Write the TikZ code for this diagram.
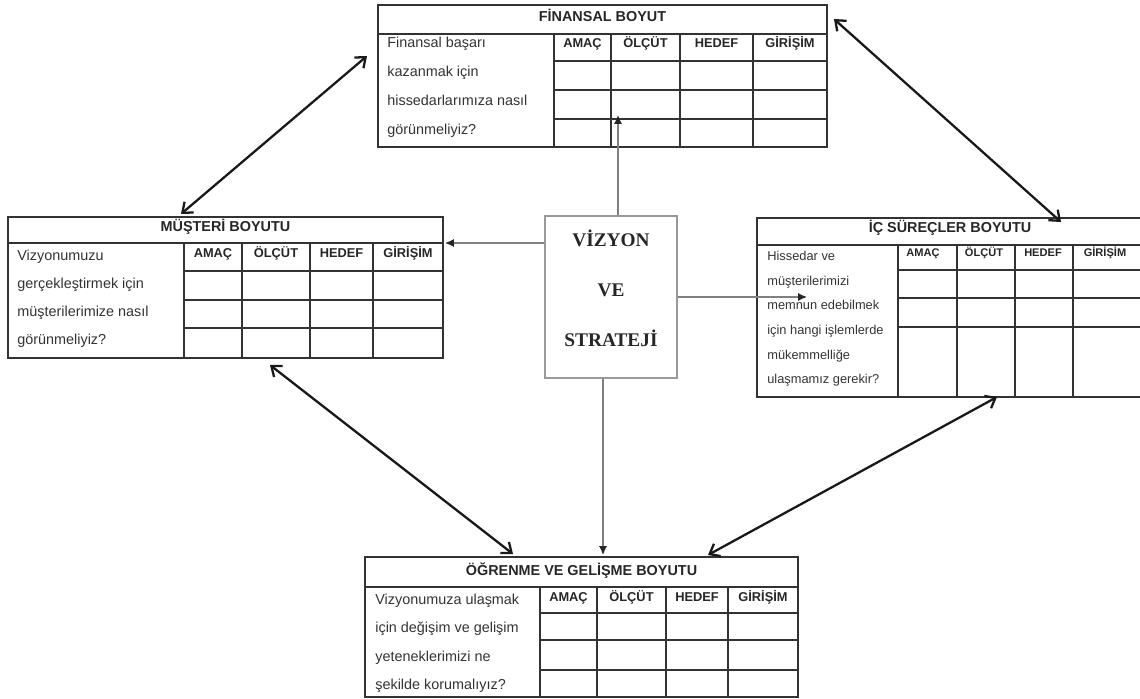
\documentclass[tikz,border=0pt]{standalone}
\usepackage{fontspec}
\setmainfont{Liberation Sans}
\newfontfamily\visionfont{Liberation Serif}
\usetikzlibrary{arrows.meta}

\begin{document}
\begin{tikzpicture}[%
    x=0.02cm, y=-0.02cm,
    cardline/.style={draw=black!80, line width=0.75pt},
    cardtitle/.style={anchor=base, inner sep=0pt, text=black!85, font=\bfseries\fontsize{8.2}{10}\selectfont},
    cardhead/.style={anchor=base, inner sep=0pt, text=black!85, font=\bfseries\fontsize{7.3}{9}\selectfont},
    smallhead/.style={cardhead, font=\bfseries\fontsize{6.3}{8}\selectfont},
    cardtext/.style={anchor=base west, inner sep=0pt, text=black!80, font=\fontsize{8.2}{10}\selectfont},
    smalltext/.style={cardtext, font=\fontsize{7.3}{9}\selectfont},
    visionbox/.style={rectangle, draw=black!40, line width=0.8pt, minimum width=2.64cm, minimum height=3.24cm},
    visiontext/.style={align=center, inner sep=0pt, text=black!85, font=\visionfont\bfseries\fontsize{11}{28.4}\selectfont},
    feed/.style={draw=black!50, line width=0.7pt, -{Latex[length=5pt,width=4.5pt,black!85]}},
    link/.style={draw=black!90, line width=1.3pt, {Straight Barb[length=5pt,width=8pt]}-{Straight Barb[length=5pt,width=8pt]}}
]
\useasboundingbox (0,0) rectangle (1140,699);
\clip (0,0) rectangle (1140,699);

% Finansal table
\draw[cardline] (378,5) rectangle (827,147);
\draw[cardline] (378,34) -- (827,34);
\foreach \y in {61,90,119} \draw[cardline] (554,\y) -- (827,\y);
\foreach \x in {554,611,680,753} \draw[cardline] (\x,34) -- (\x,147);
\node[cardtitle] (fin) at (602.5,22) {FİNANSAL BOYUT};
\foreach \h/\x [count=\i] in {AMAÇ/582.5, ÖLÇÜT/645.5, HEDEF/716.5, GİRİŞİM/790}
  \node[cardhead] (fin-h\i) at (\x,48) {\h};
\foreach \t [count=\i] in {Finansal başarı, kazanmak için, hissedarlarımıza nasıl, görünmeliyiz?}
  \node[cardtext] (fin-q\i) at (387,{48+29*(\i-1)}) {\t};

% Musteri table
\draw[cardline] (8,217) rectangle (443,358);
\draw[cardline] (8,243) -- (443,243);
\foreach \y in {271,300,328} \draw[cardline] (184,\y) -- (443,\y);
\foreach \x in {184,242,310,373} \draw[cardline] (\x,243) -- (\x,358);
\node[cardtitle] (mus) at (225.5,232) {MÜŞTERİ BOYUTU};
\foreach \h/\x [count=\i] in {AMAÇ/213, ÖLÇÜT/276, HEDEF/341.5, GİRİŞİM/408}
  \node[cardhead] (mus-h\i) at (\x,258) {\h};
\foreach \t [count=\i] in {Vizyonumuzu, gerçekleştirmek için, müşterilerimize nasıl, görünmeliyiz?}
  \node[cardtext] (mus-q\i) at (17,{261+27.7*(\i-1)}) {\t};

% Ic surecler table
\draw[cardline] (757,218) rectangle (1160,397);
\draw[cardline] (757,245) -- (1160,245);
\foreach \y in {270,298,327} \draw[cardline] (898,\y) -- (1160,\y);
\foreach \x in {898,957,1015,1073} \draw[cardline] (\x,245) -- (\x,397);
\node[cardtitle] (ic) at (950,233) {İÇ SÜREÇLER BOYUTU};
\foreach \h/\x [count=\i] in {AMAÇ/923, ÖLÇÜT/984, HEDEF/1043, GİRİŞİM/1105}
  \node[smallhead] (ic-h\i) at (\x,257) {\h};
\foreach \t [count=\i] in {Hissedar ve, müşterilerimizi, memnun edebilmek, için hangi işlemlerde, mükemmelliğe, ulaşmamız gerekir?}
  \node[smalltext] (ic-q\i) at (767,{261+24.5*(\i-1)}) {\t};

% Ogrenme table
\draw[cardline] (365,557) rectangle (798,697);
\draw[cardline] (365,587) -- (798,587);
\foreach \y in {613,640,670} \draw[cardline] (540,\y) -- (798,\y);
\foreach \x in {540,597,666,728} \draw[cardline] (\x,587) -- (\x,697);
\node[cardtitle] (ogr) at (581.5,575) {ÖĞRENME VE GELİŞME BOYUTU};
\foreach \h/\x [count=\i] in {AMAÇ/568.5, ÖLÇÜT/631.5, HEDEF/697, GİRİŞİM/763}
  \node[cardhead] (ogr-h\i) at (\x,601) {\h};
\foreach \t [count=\i] in {Vizyonumuza ulaşmak, için değişim ve gelişim, yeteneklerimizi ne, şekilde korumalıyız?}
  \node[cardtext] (ogr-q\i) at (375,{604+28.5*(\i-1)}) {\t};

% Vision
\node[visionbox] (vizyon) at (611,297) {};
\node[visiontext] (vizyon-text) at (611,288) {VİZYON\\VE\\STRATEJİ};

% Connector ends
\coordinate (fin-in) at (618,115);
\coordinate (mus-in) at (445,243);
\coordinate (ic-in) at (807,297);
\coordinate (ogr-in) at (603,555);
\coordinate (fin-l) at (367,56);
\coordinate (fin-r) at (834,19);
\coordinate (mus-t) at (181,214);
\coordinate (mus-b) at (270,365);
\coordinate (ic-t) at (1061,222);
\coordinate (ic-b) at (997,397);
\coordinate (ogr-l) at (513,554);
\coordinate (ogr-r) at (708,555);

% Vision Lines
\draw[feed] (vizyon.north -| fin-in) -- (fin-in);
\draw[feed] (vizyon.west |- mus-in) -- (mus-in);
\draw[feed] (vizyon.east |- ic-in) -- (ic-in);
\draw[feed] (vizyon.south -| ogr-in) -- (ogr-in);

% Table Lines
\draw[link] (fin-l) -- (mus-t);
\draw[link] (fin-r) -- (ic-t);
\draw[link] (mus-b) -- (ogr-l);
\draw[link] (ic-b) -- (ogr-r);

\end{tikzpicture}
\end{document}
